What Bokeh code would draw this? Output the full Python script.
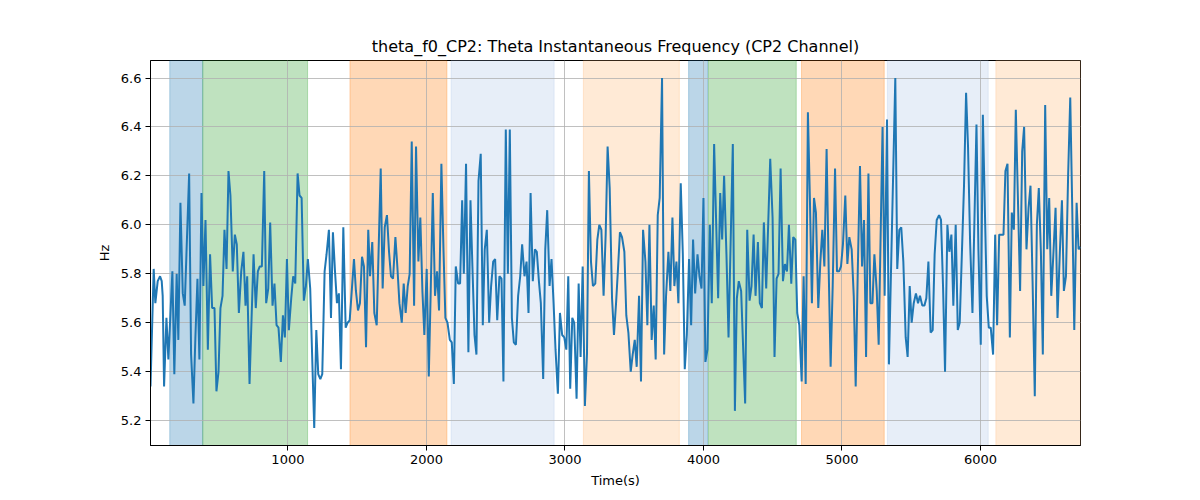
from bokeh.plotting import figure
from bokeh.models import Range1d, FixedTicker, BoxAnnotation, PrintfTickFormatter
from bokeh.embed import file_html
from bokeh.resources import INLINE

# ---- data: instantaneous theta frequency (Hz) ----
times = [8, 31, 43, 60, 77, 89, 96, 106, 123, 137,
         166, 180, 197, 209, 224, 241, 255, 287, 301, 318,
         332, 347, 361, 376, 390, 405, 422, 438, 453, 470,
         484, 499, 513, 528, 542, 557, 571, 585, 602, 617,
         631, 646, 663, 679, 694, 706, 723, 752,
         768, 783, 797, 812, 829, 843, 858, 872, 889, 903,
         918, 932, 949, 964, 978, 993, 1007, 1024, 1038, 1053,
         1070, 1084, 1099, 1115, 1130, 1144, 1161, 1190, 1205, 1219,
         1234, 1248, 1265, 1279, 1296, 1311, 1325, 1340, 1354, 1368,
         1383, 1400, 1417, 1431, 1446, 1477, 1491, 1506,
         1520, 1535, 1549, 1564, 1580, 1593, 1609, 1624, 1641, 1670,
         1684, 1699, 1715, 1730, 1744, 1759, 1776, 1790, 1805, 1822,
         1836, 1850, 1865, 1879, 1894, 1911, 1925, 1942, 1956, 1971,
         1985, 2002, 2017, 2031, 2046, 2062, 2077, 2091, 2108, 2123,
         2137, 2152, 2169, 2183, 2198, 2212, 2229, 2243, 2258,
         2270, 2286, 2303, 2318, 2332, 2347, 2361, 2376, 2392, 2407,
         2421, 2436, 2453, 2467, 2482, 2496, 2511, 2527, 2542, 2556,
         2573, 2588, 2602, 2617, 2631, 2646, 2662, 2677, 2691, 2708,
         2723, 2737, 2752, 2768, 2783, 2797, 2812, 2826, 2843, 2858,
         2872, 2889, 2903, 2918, 2932, 2949, 2964, 2980, 2995, 3010,
         3024, 3038, 3053, 3067, 3084, 3099, 3113, 3128, 3144, 3159,
         3173, 3188, 3202, 3219, 3234, 3248, 3263, 3279, 3294, 3308,
         3323, 3340, 3354, 3369, 3383, 3397, 3412, 3429, 3443, 3458,
         3475, 3489, 3504, 3518, 3535, 3549, 3564, 3581, 3595, 3610,
         3626, 3641, 3655, 3670, 3684, 3701, 3716, 3730, 3747, 3761,
         3776, 3790, 3805, 3819, 3836, 3851, 3865, 3880, 3896, 3911,
         3925, 3940, 3957, 3971, 3986, 4000, 4014, 4029, 4046, 4060,
         4077, 4106, 4121, 4135, 4149, 4166, 4181, 4212, 4227, 4241,
         4255, 4272, 4287, 4301, 4316, 4333, 4347, 4362, 4376, 4393,
         4407, 4422, 4436, 4453, 4482, 4499, 4513,
         4528, 4542, 4557, 4574, 4588, 4603, 4617, 4634, 4648, 4663,
         4677, 4692, 4709, 4723, 4738, 4754, 4769, 4783, 4798, 4812,
         4829, 4844, 4858, 4873, 4889, 4904, 4918, 4933, 4950, 4964,
         4979, 4993, 5007, 5024, 5039, 5053, 5070, 5085, 5099, 5114,
         5130, 5145, 5159, 5174, 5191, 5205, 5220, 5234, 5251, 5265,
         5293, 5308, 5325, 5339, 5385, 5399, 5414, 5428, 5443, 5460,
         5474, 5489, 5503, 5518, 5534, 5549, 5563, 5580, 5595, 5609,
         5624, 5640, 5655, 5669, 5684, 5701, 5715, 5730, 5744, 5761,
         5775, 5790, 5804, 5821, 5836, 5850, 5881, 5896, 5910, 5925,
         5942, 5971, 5985, 6002, 6017,
         6045, 6060, 6074, 6091, 6106, 6120, 6135, 6151, 6166, 6180,
         6195, 6212, 6226, 6241, 6255, 6286, 6301, 6315, 6332, 6347,
         6361, 6376, 6392, 6407, 6421, 6436, 6450, 6467, 6482, 6496,
         6511, 6527, 6542, 6556, 6573, 6588, 6602, 6617, 6633, 6648,
         6662, 6677, 6694, 6708, 6722]

hz = [5.34, 5.82, 5.68, 5.77, 5.79, 5.77, 5.71, 5.34, 5.62, 5.45,
      5.81, 5.39, 5.80, 5.53, 6.09, 5.72, 5.67, 6.21, 5.47, 5.27,
      5.54, 5.78, 5.45, 6.13, 5.75, 6.02, 5.49, 5.88, 5.66, 5.66,
      5.32, 5.40, 5.66, 5.71, 5.98, 5.82, 6.22, 6.12, 5.81, 5.96,
      5.92, 5.64, 5.81, 5.89, 5.67, 5.79, 5.35, 5.88,
      5.66, 5.81, 5.83, 5.83, 6.22, 5.68, 5.74, 6.01, 5.67, 5.76,
      5.59, 5.58, 5.44, 5.63, 5.54, 5.86, 5.57, 5.70, 5.79, 5.76,
      6.21, 6.12, 6.11, 5.69, 5.75, 5.86, 5.74, 5.17, 5.57, 5.39,
      5.37, 5.39, 5.81, 5.88, 5.98, 5.62, 5.97, 5.81, 5.68, 5.72,
      5.41, 5.99, 5.58, 5.60, 5.61, 5.86, 5.73, 5.65,
      5.68, 5.87, 5.83, 5.50, 5.98, 5.79, 5.93, 5.64, 5.59, 6.23,
      5.74, 5.99, 6.04, 5.89, 5.79, 5.78, 5.95, 5.83, 5.68, 5.60,
      5.76, 5.64, 5.75, 5.80, 6.34, 5.67, 6.32, 5.85, 6.03, 5.73,
      5.55, 5.82, 5.38, 5.73, 6.13, 5.71, 5.81, 5.65, 6.25, 5.90,
      5.62, 5.60, 5.53, 5.52, 5.35, 5.83, 5.76, 5.76, 6.10,
      5.80, 6.25, 5.48, 6.10, 5.83, 5.55, 5.47, 6.18, 6.29, 5.59,
      5.90, 5.98, 5.60, 5.75, 5.85, 5.86, 5.61, 5.79, 5.78, 5.36,
      6.39, 5.80, 6.39, 5.62, 5.52, 5.51, 5.71, 5.79, 5.92, 5.79,
      5.85, 5.64, 6.13, 5.77, 5.90, 5.89, 5.77, 5.68, 5.37, 5.90,
      6.06, 5.75, 5.86, 5.68, 5.49, 5.31, 5.64, 5.55, 5.54, 5.49,
      5.79, 5.33, 5.62, 5.60, 5.29, 5.76, 5.46, 5.83, 5.26, 5.47,
      6.22, 5.85, 5.75, 5.76, 5.94, 6.00, 5.98, 5.71, 5.96, 6.32,
      6.15, 5.70, 5.55, 5.68, 5.82, 5.97, 5.95, 5.89, 5.63, 5.56,
      5.40, 5.47, 5.53, 5.42, 5.71, 5.36, 5.98, 5.85, 5.59, 6.00,
      5.53, 5.67, 5.45, 6.04, 6.11, 6.60, 5.47, 5.71, 5.89, 5.73,
      6.03, 5.75, 5.85, 5.68, 6.17, 5.88, 5.41, 5.55, 5.86, 5.59,
      5.94, 5.72, 5.88, 5.79, 5.74, 6.11, 5.44, 5.49, 6.00, 5.68,
      6.33, 5.70, 6.13, 5.94, 6.20, 5.88, 5.54, 6.33, 5.24, 5.70,
      5.77, 5.73, 5.49, 5.27, 5.98, 5.69, 5.75, 5.96, 5.71, 5.93,
      5.68, 5.66, 6.01, 5.74, 6.27, 6.03, 5.46,
      5.78, 5.80, 6.23, 5.77, 5.84, 5.81, 6.00, 5.76, 5.95, 5.94,
      5.64, 5.59, 5.36, 5.79, 5.35, 6.46, 6.09, 5.68, 6.11, 6.05,
      5.66, 5.85, 5.98, 5.83, 6.31, 5.82, 5.42, 5.75, 6.23, 5.81,
      5.81, 5.83, 5.92, 6.12, 5.84, 5.95, 5.90, 5.71, 5.34, 5.81,
      6.24, 5.83, 6.02, 5.46, 6.21, 5.68, 5.68, 5.88, 5.73, 5.51,
      6.40, 5.71, 6.43, 5.43, 6.60, 5.82, 5.98, 5.99, 5.85, 5.54,
      5.46, 5.75, 5.60, 5.68, 5.72, 5.68, 5.71, 5.67, 5.67, 5.70,
      5.85, 5.56, 5.57, 5.88, 6.02, 6.04, 6.02, 5.74, 5.40, 6.00,
      5.89, 5.96, 5.67, 6.00, 5.57, 5.60, 6.16, 6.54, 6.32, 5.93,
      5.64, 6.41, 5.90, 5.51, 6.45,
      5.71, 5.58, 5.58, 5.47, 5.96, 5.59, 5.96, 5.96, 5.96, 6.22,
      6.25, 5.54, 6.05, 5.98, 6.47, 5.73, 6.30, 6.40, 5.90, 6.07,
      6.16, 5.77, 5.30, 6.00, 6.15, 5.89, 5.47, 6.49, 5.90, 6.11,
      5.71, 5.89, 6.07, 5.62, 5.89, 6.10, 5.73, 5.79, 6.21, 6.52,
      6.08, 5.57, 6.09, 5.90, 5.91]

# shaded epochs (start, end, state)
span_start = [147, 385, 1448, 2178, 3133, 3893, 4036, 4708, 5328, 6111]
span_end = [385, 1142, 2148, 2922, 3826, 4031, 4670, 5305, 6056, 6722]
span_state = ["s1", "s2", "s3", "s4", "s5", "s1", "s2", "s3", "s4", "s5"]

x_ticks = [1000, 2000, 3000, 4000, 5000, 6000]
y_ticks = [5.2, 5.4, 5.6, 5.8, 6.0, 6.2, 6.4, 6.6]

# ---- styles ----
state_color = {"s1": "#1f77b4", "s2": "#2ca02c", "s3": "#ff7f0e",
               "s4": "#aec7e8", "s5": "#ffbb78"}
FONT = "DejaVu Sans"

pad = (max(hz) - min(hz)) * 0.05
p = figure(width=1192, height=492, output_backend="svg", toolbar_location=None,
           x_range=Range1d(times[0], times[-1]),
           y_range=Range1d(min(hz) - pad, max(hz) + pad),
           min_border_left=150, min_border_right=112,
           min_border_top=60, min_border_bottom=47)

for s, e, st in zip(span_start, span_end, span_state):
    c = state_color[st]
    p.add_layout(BoxAnnotation(left=s, right=e, fill_color=c, fill_alpha=0.3,
                               line_color=c, line_alpha=0.3, line_width=1,
                               level="image"))

p.line(times, hz, line_color="#1f77b4", line_width=2)

p.title.text = "theta_f0_CP2: Theta Instantaneous Frequency (CP2 Channel)"
p.title.align = "center"
p.title.text_font = FONT
p.title.text_font_size = "16px"
p.title.text_font_style = "normal"
p.title.text_color = "black"

p.xaxis.axis_label = "Time(s)"
p.yaxis.axis_label = "Hz"
p.xaxis.ticker = FixedTicker(ticks=x_ticks)
p.yaxis.ticker = FixedTicker(ticks=y_ticks)
p.yaxis.formatter = PrintfTickFormatter(format="%.1f")
for ax in (p.xaxis, p.yaxis):
    ax.axis_label_text_font = FONT
    ax.axis_label_text_font_size = "13px"
    ax.axis_label_text_font_style = "normal"
    ax.axis_label_text_color = "black"
    ax.major_label_text_font = FONT
    ax.major_label_text_font_size = "13px"
    ax.major_label_text_color = "black"
    ax.axis_line_color = "black"
    ax.major_tick_line_color = "black"
    ax.major_tick_out = 5
    ax.major_tick_in = 0
    ax.minor_tick_line_color = None
    ax.axis_label_standoff = 6
    ax.major_label_standoff = 4

p.grid.grid_line_color = "#b0b0b0"
p.grid.grid_line_width = 0.8
p.outline_line_color = "black"
p.outline_line_alpha = 1
p.outline_line_width = 1

open("out.html", "w").write(file_html(p, INLINE))
